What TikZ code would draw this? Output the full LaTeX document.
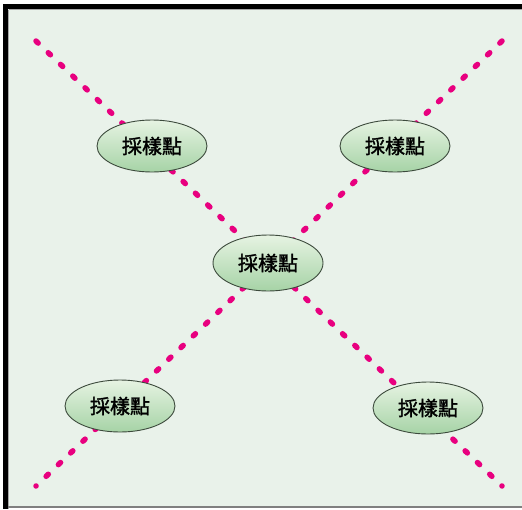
\documentclass[tikz,border=0pt]{standalone}
\usepackage{fontspec}
\newfontfamily\cjk[BoldFont={Noto Sans CJK TC}, BoldFeatures={FakeBold=1.6}]{Noto Sans CJK TC}
\usetikzlibrary{shapes.geometric}
\definecolor{bgc}{HTML}{E9F2EA}
\definecolor{pinkc}{HTML}{E8007F}
\definecolor{topg}{HTML}{E6F3E2}
\definecolor{botg}{HTML}{A6D3A6}
\definecolor{edgec}{HTML}{3C4A3C}
\tikzset{
  samp/.style={ellipse, draw=edgec, line width=0.9pt, top color=topg, bottom color=botg,
    minimum width=110pt, minimum height=52pt, inner sep=0pt, font=\cjk\bfseries\fontsize{20}{20}\selectfont},
  dotline/.style={draw=pinkc, line width=5.5pt, line cap=round, dash pattern=on 3pt off 13.955pt}
}
\begin{document}
\begin{tikzpicture}[x={(1pt,0)}, y={(0,-1pt)}]
\useasboundingbox (0,0) rectangle (522,509);
\fill[white] (0,0) rectangle (522,509);
\fill[bgc] (8,9) rectangle (522,506);
\fill[black] (3,4) rectangle (8,509);
\fill[black] (3,4) rectangle (522,9);
\draw[gray!70, line width=1pt] (8.5,9.5) -- (522,9.5);
\draw[gray!70, line width=1pt] (8.5,9.5) -- (8.5,509);
\draw[gray, line width=2pt] (8,507) -- (522,507);
\coordinate (a1) at (36,41);
\coordinate (a2) at (502,486);
\coordinate (b1) at (502,41);
\coordinate (b2) at (36,486);
\draw[dotline] (a1) -- (a2);
\draw[dotline] (b1) -- (b2);
\node[samp] (tl) at (152,146) {採樣點};
\node[samp] (tr) at (395,146) {採樣點};
\node[samp, minimum height=56pt] (c) at (268,263) {採樣點};
\node[samp] (bl) at (120,406) {採樣點};
\node[samp] (br) at (428,408) {採樣點};
\end{tikzpicture}
\end{document}
